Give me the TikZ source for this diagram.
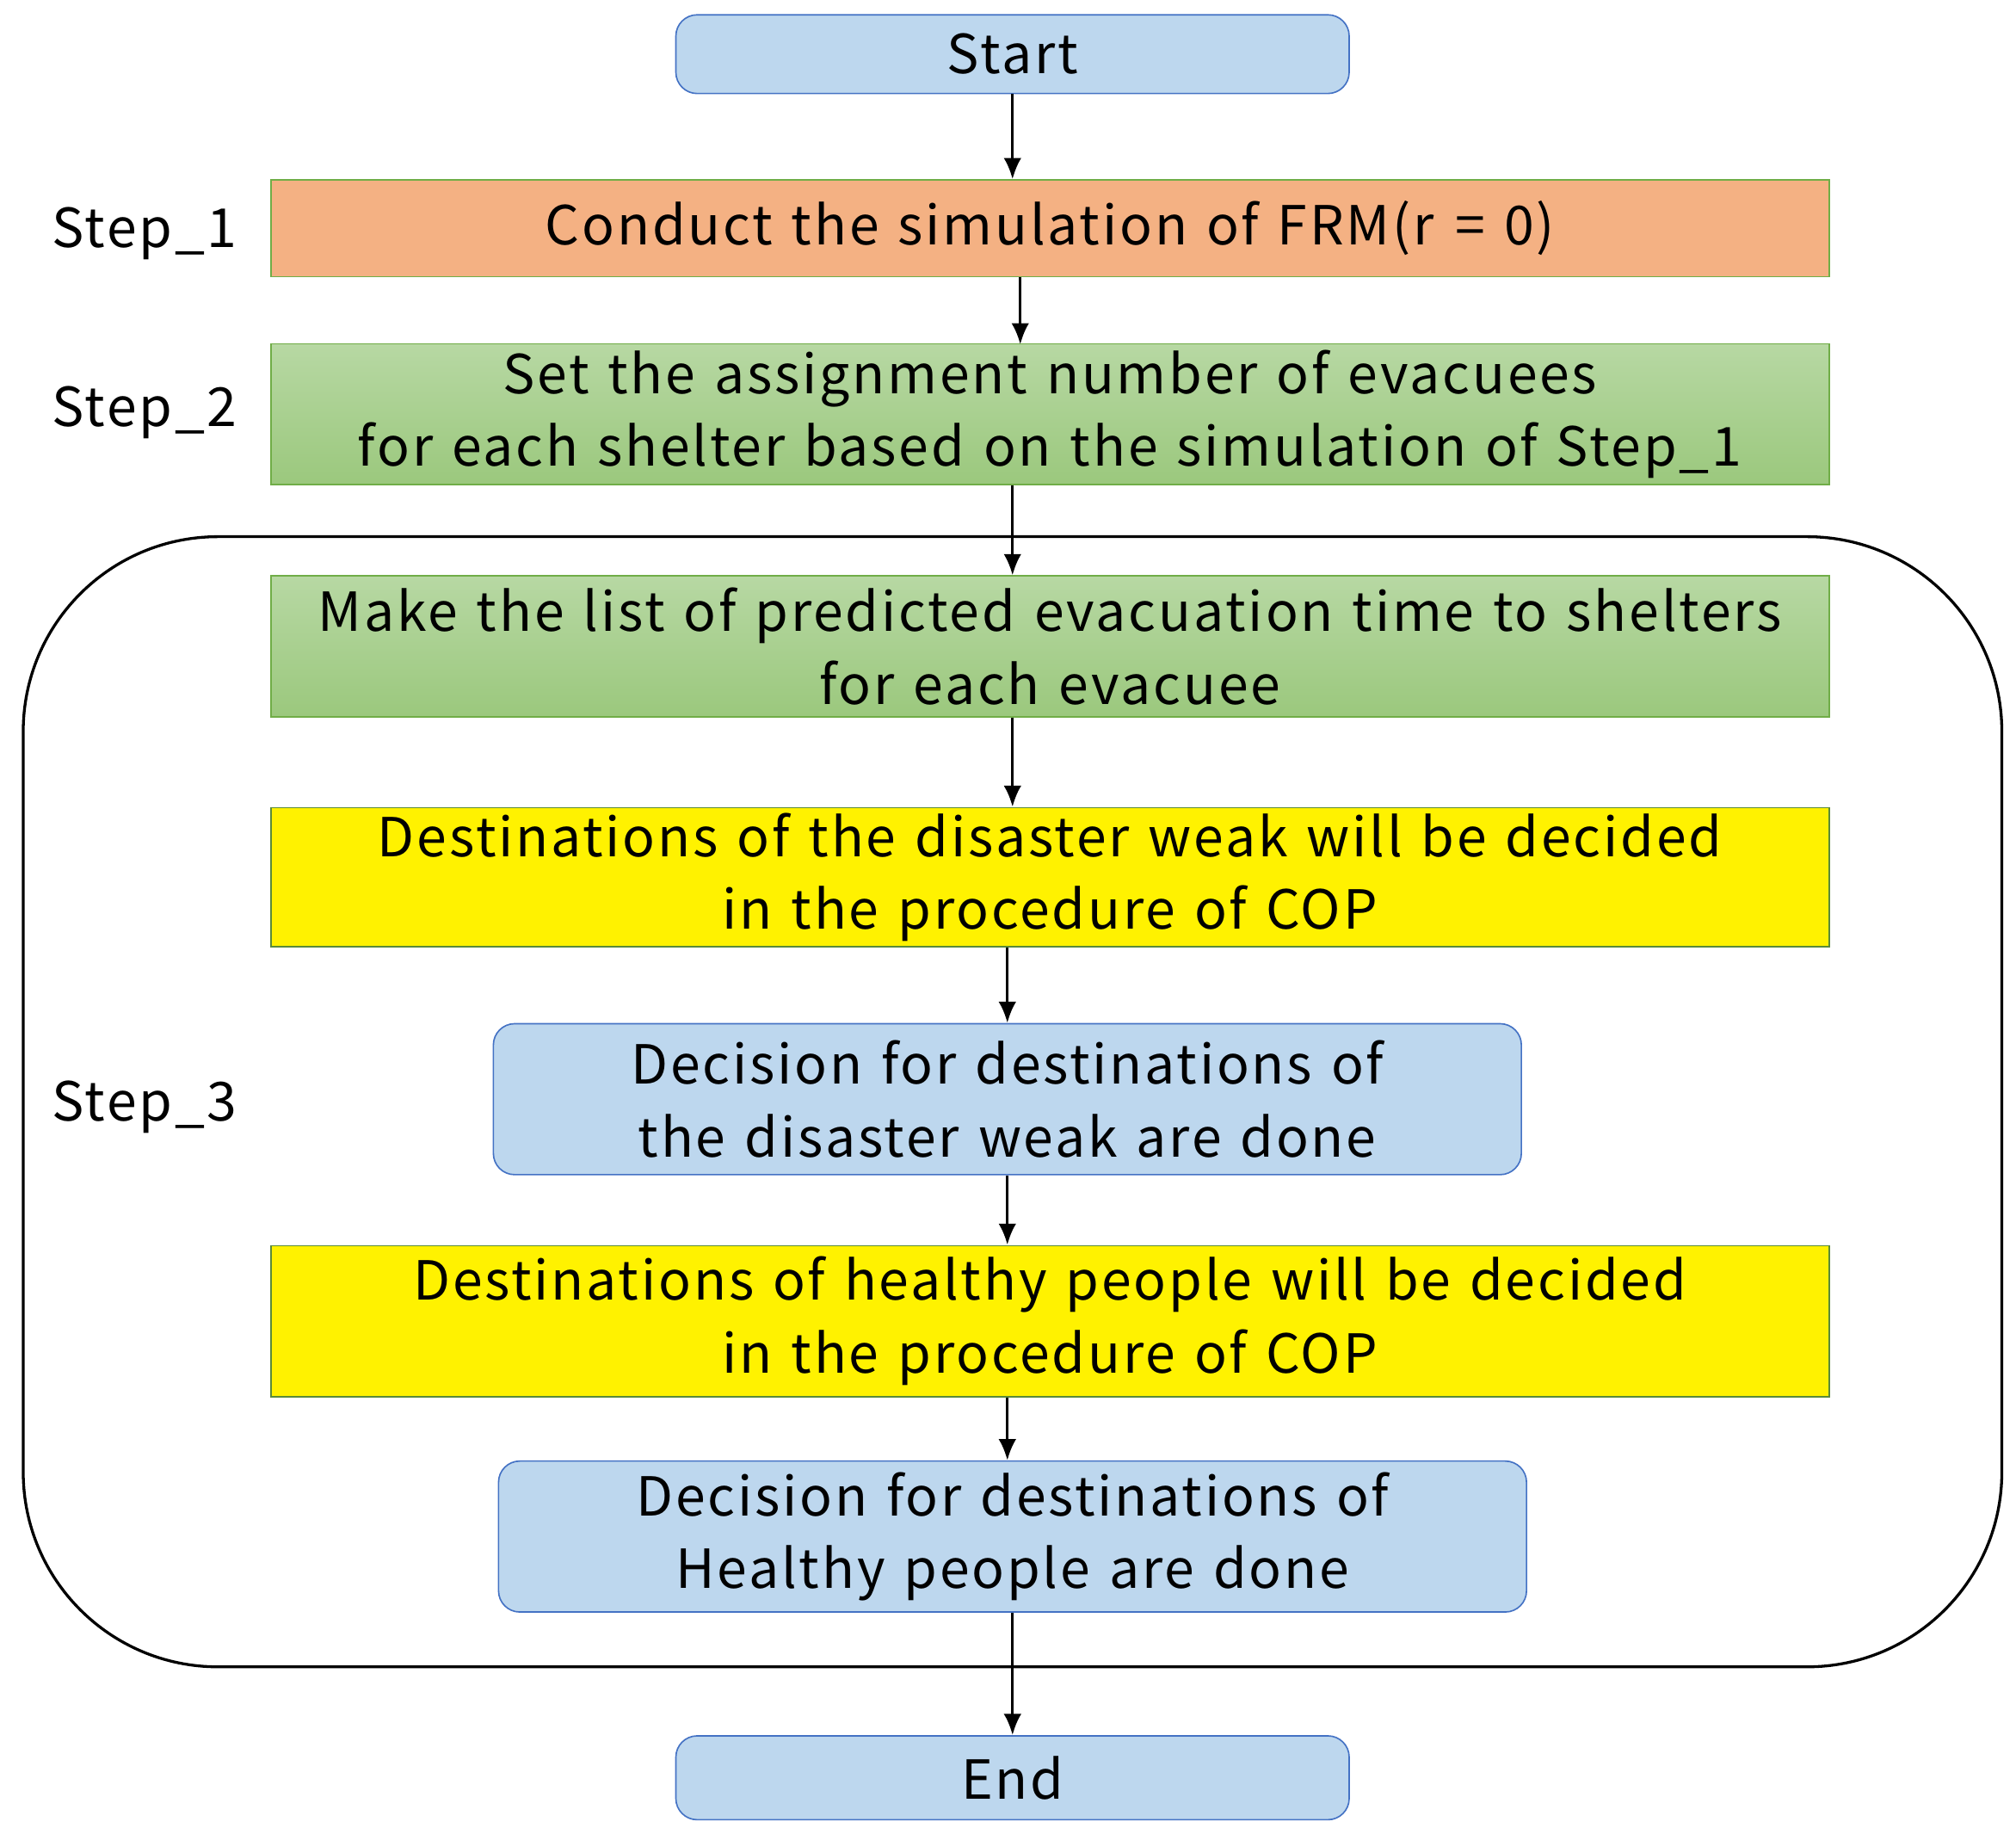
\documentclass[tikz,border=0pt]{standalone}
\usepackage{fontspec}
\setmainfont{Noto Sans CJK JP}[LetterSpace=4.5,WordSpace=1.3]
\usetikzlibrary{arrows.meta}
\begin{document}
\definecolor{lblue}{RGB}{189,215,238}
\definecolor{bblue}{RGB}{68,114,196}
\definecolor{orng}{RGB}{244,177,131}
\definecolor{gbord}{RGB}{112,173,71}
\definecolor{gtop}{RGB}{183,216,163}
\definecolor{gbot}{RGB}{155,200,125}
\begin{tikzpicture}[x=0.0128cm,y=-0.0128cm,
  every node/.style={font=\fontsize{15.2}{20.5}\selectfont, align=center, inner sep=0pt},
  blu/.style={draw=bblue, fill=lblue, rounded corners=6pt},
  wide/.style={draw=gbord, minimum width=1208*0.0128cm},
  grn/.style={wide, top color=gtop, bottom color=gbot},
  yel/.style={wide, fill=yellow, draw=gbord!80!black},
  arr/.style={-{Latex[length=6pt,width=5pt]}, thick}]
\useasboundingbox (0,0) rectangle (1563,1421);
\draw[thick, rounded corners=55pt] (18,416) rectangle (1552,1292);
\node[blu, minimum width=522*0.0128cm, minimum height=61*0.0128cm] (s) at (785,42) {Start};
\node[wide, fill=orng, minimum height=75*0.0128cm] (b1) at (814,177) {Conduct the simulation of FRM(\textit{r} = 0)};
\node[grn, minimum height=109*0.0128cm] (b2) at (814,321) {Set the assignment number of evacuees\\for each shelter based on the simulation of Step\_1};
\node[grn, minimum height=109*0.0128cm] (b3) at (814,501) {Make the list of predicted evacuation time to shelters\\for each evacuee};
\node[yel, minimum height=108*0.0128cm] (b4) at (814,680) {Destinations of the disaster weak will be decided\\in the procedure of COP};
\node[blu, minimum width=797*0.0128cm, minimum height=117*0.0128cm] (b5) at (781,852) {Decision for destinations of\\the disaster weak are done};
\node[yel, minimum height=117*0.0128cm] (b6) at (814,1024) {Destinations of healthy people will be decided\\in the procedure of COP};
\node[blu, minimum width=797*0.0128cm, minimum height=117*0.0128cm] (b7) at (785,1191) {Decision for destinations of\\Healthy people are done};
\node[blu, minimum width=522*0.0128cm, minimum height=65*0.0128cm] (e) at (785,1378) {End};
\node (l1) at (112,181) {Step\_1};
\node (l2) at (112,320) {Step\_2};
\node (l3) at (112,858) {Step\_3};
\draw[arr] (s.south) -- (s.south |- b1.north);
\draw[arr] (b1.south -| 791,0) -- (791,267);
\draw[arr] (b2.south -| s) -- (b3.north -| s);
\draw[arr] (b3.south -| s) -- (b4.north -| s);
\draw[arr] (b4.south -| b5) -- (b5.north);
\draw[arr] (b5.south) -- (b6.north -| b5);
\draw[arr] (b6.south -| b5) -- (b7.north -| b5);
\draw[arr] (b7.south) -- (e.north);
\end{tikzpicture}
\end{document}
